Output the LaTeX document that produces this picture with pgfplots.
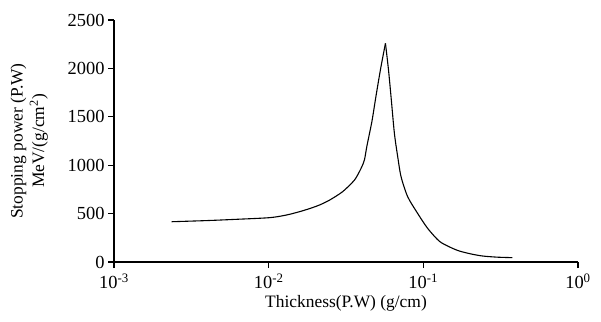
\documentclass[border=0pt]{standalone}
\usepackage{pgfplots}
\pgfplotsset{compat=1.18}
\usepackage{fontspec}
\setmainfont{Liberation Serif}
\begin{document}
\begin{tikzpicture}
\useasboundingbox (-114bp,-60bp) rectangle (487bp,262bp);
\begin{axis}[
  at={(0,0)}, anchor=south west,
  scale only axis,
  width=464bp, height=242bp,
  xmode=log,
  xmin=0.001, xmax=1,
  ymin=0, ymax=2500,
  axis lines=left,
  axis line style={-, line width=1.4pt},
  tick style={line width=1.2pt, black},
  tick align=outside,
  major tick length=6bp,
  xminorticks=false,
  xtick={0.001,0.01,0.1,1},
  xticklabels={10\textsuperscript{-3},10\textsuperscript{-2},10\textsuperscript{-1},10\textsuperscript{0}},
  ytick={0,500,1000,1500,2000,2500},
  /pgf/number format/assume math mode=true,
  /pgf/number format/1000 sep={},
  tick label style={font=\fontsize{18.5}{21}\selectfont},
  xlabel={Thickness(P.W) (g/cm)},
  ylabel={Stopping power (P.W)\\MeV/(g/cm\textsuperscript{2})},
  every axis x label/.style={at={(axis description cs:0.5,0)}, anchor=north, yshift=-30bp, font=\fontsize{17.5}{21}\selectfont},
  every axis y label/.style={at={(axis description cs:-0.135,0.5)}, rotate=90, anchor=south, align=center, font=\fontsize{17.5}{21.5}\selectfont},
  xticklabel style={yshift=-2bp},
  clip=false,
]
\addplot[black, line width=1.1pt, smooth, tension=0.45] coordinates {
(0.002355,416) (0.004,428) (0.006,440) (0.01014,458) (0.0130,485) (0.01585,520)
(0.01850,553) (0.02133,589) (0.0248,640) (0.0301,727) (0.0359,847) (0.0396,968)
(0.0416,1054) (0.0431,1191) (0.0449,1330) (0.0467,1467) (0.0495,1720) (0.0530,2000) (0.0569,2259)
};
\addplot[black, line width=1.1pt, smooth, tension=0.45] coordinates {
(0.0569,2259)
(0.0595,1990) (0.0619,1700) (0.0650,1330) (0.0683,1088) (0.0718,881) (0.0792,675)
(0.0918,503) (0.1066,348) (0.1268,215) (0.1480,155) (0.1706,114)
(0.2050,82) (0.2414,62) (0.3000,50) (0.3767,45)
};
\end{axis}
\end{tikzpicture}
\end{document}
